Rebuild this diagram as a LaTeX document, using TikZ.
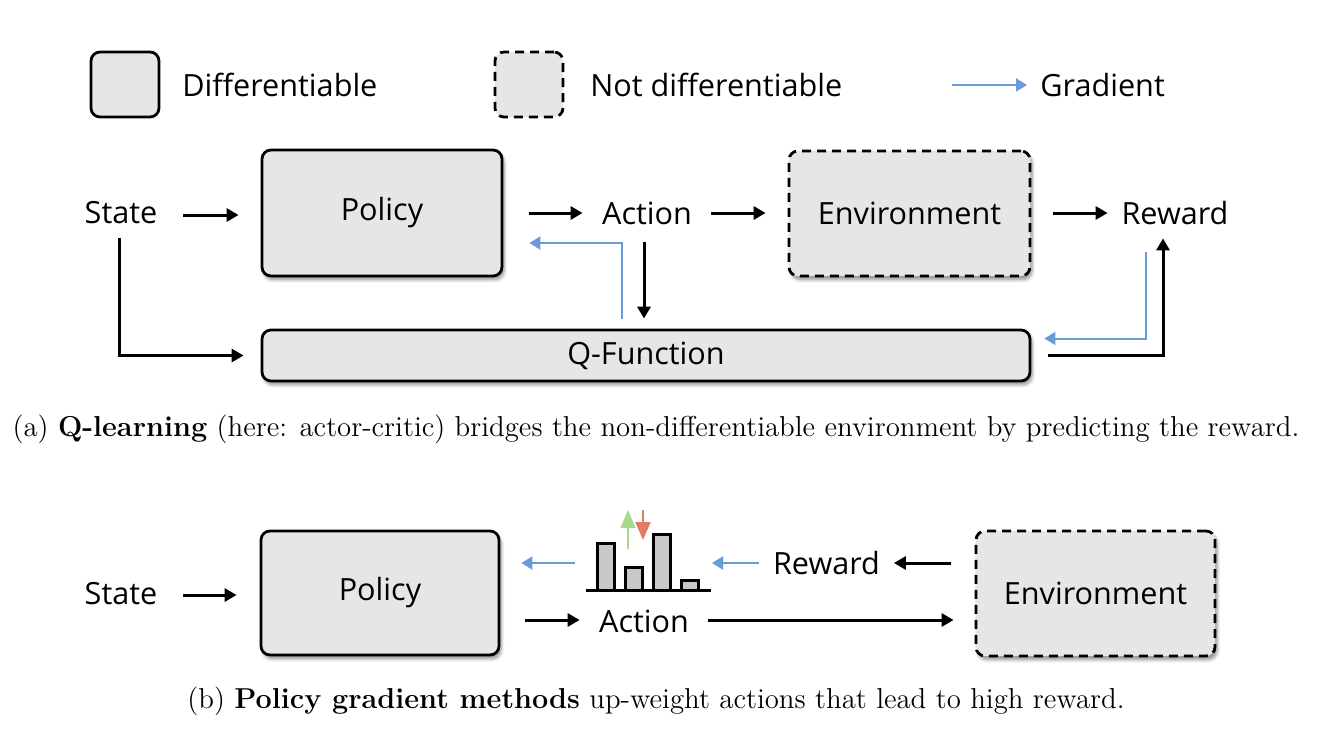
\documentclass[tikz,border=0pt]{standalone}
\usepackage{fontspec}
\setsansfont{Open Sans}
\usetikzlibrary{arrows.meta,calc,shadows.blur}
\definecolor{boxgray}{HTML}{E6E6E6}
\definecolor{gradblue}{HTML}{6A9BD8}
\definecolor{bargray}{HTML}{C8C8C8}
\definecolor{upgreen}{HTML}{A6D98C}
\definecolor{downred}{HTML}{E07A66}
\begin{document}
\begin{tikzpicture}[x=0.5pt,y=-0.5pt,
  lab/.style={font=\sffamily\fontsize{15.3}{18}\selectfont, inner sep=0pt, text=black},
  boxbase/.style={lab, draw=black, fill=boxgray, line width=1.4pt, rounded corners=4.5pt},
  shad/.style={blur shadow={shadow xshift=1pt, shadow yshift=-1.8pt, shadow blur steps=6, shadow opacity=45}},
  diffbox/.style={boxbase, shad},
  ndbox/.style={boxbase, shad, dash pattern=on 4.5pt off 3pt},
  legbox/.style={boxbase},
  legnd/.style={boxbase, dash pattern=on 4.5pt off 3pt},
  arr/.style={-{Triangle[length=6pt,width=6.5pt]}, line width=1.5pt, black},
  grad/.style={-{Triangle[length=5.5pt,width=6.5pt]}, line width=1pt, gradblue},
  bar/.style={draw=black, fill=bargray, line width=1.5pt},
  captext/.style={font=\fontsize{14.4}{17}\selectfont, inner sep=0pt}
]
\useasboundingbox (0,0) rectangle (1342,744);

% legend
\node[legbox, minimum width=34pt, minimum height=32.5pt] (legd) at (125,84.5) {};
\node[lab, anchor=west] (legdl) at (182,85) {Differentiable};
\node[legnd, minimum width=34pt, minimum height=32.5pt] (legn) at (529,84.5) {};
\node[lab, anchor=west] (legnl) at (590,85) {Not differentiable};
\coordinate (gstart) at (952,85);
\node[lab, anchor=west] (leggl) at (1040,85) {Gradient};
\draw[grad, shorten >=6.5pt] (gstart) -- (leggl.west);

% panel (a)
\node[lab, minimum width=62pt, minimum height=25pt] (state) at (121,213) {State};
\node[diffbox, minimum width=120pt, minimum height=63pt] (policy) at (382,213) {Policy};
\node[lab, minimum width=64pt, minimum height=29pt] (action) at (647,213) {Action};
\node[ndbox, minimum width=120.5pt, minimum height=62.5pt] (env) at (909.5,213.5) {Environment};
\node[lab, minimum width=67pt, minimum height=25pt] (reward) at (1175,213) {Reward};
\node[diffbox, minimum width=384pt, minimum height=25.5pt] (qf) at (646,355.5) {Q-Function};

\draw[arr, shorten >=11pt] ($(state.east)+(0,2)$) -- ($(state.east -| policy.west)+(0,2)$);
\draw[arr, shorten <=13pt] (policy.east) -- (action.west);
\draw[arr, shorten >=11pt] (action.east) -- (action.east -| env.west);
\draw[arr, shorten <=11pt] (env.east |- reward.west) -- (reward.west);
\draw[arr] ($(action.south)+(-3,0)$) -- ($(action.south |- qf.north)+(-3,-10)$);
\draw[grad] ($(qf.north)+(-24,-10)$) |- ($(policy.east)+(26,30)$);
\draw[arr] ($(state.south)+(-2,0)$) |- ($(qf.west)+(-17,0)$);
\draw[arr] ($(qf.east)+(17,0)$) -| ($(reward.south)+(-12,0)$);
\draw[grad] ($(reward.south)+(-29,14)$) |- ($(qf.east)+(13,-17)$);

\node[captext] (capa) at (656,429) {(a) \textbf{Q-learning} (here: actor-critic) bridges the non-differentiable environment by predicting the reward.};

% panel (b)
\node[lab, minimum width=62pt, minimum height=25pt] (stateb) at (121,594) {State};
\node[diffbox, minimum width=119pt, minimum height=62pt] (policyb) at (380,593) {Policy};
\node[lab, minimum width=64pt] (actionb) at (644,621) {Action};
\node[lab, minimum width=67pt] (rewardb) at (826.5,563) {Reward};
\node[ndbox, minimum width=119.5pt, minimum height=62.5pt] (envb) at (1095.5,593.5) {Environment};

\coordinate (histL) at (575,563);
\coordinate (histR) at (712,563);

\draw[arr, shorten >=11.5pt] ($(stateb.east)+(0,1)$) -- ($(stateb.east -| policyb.west)+(0,1)$);
\draw[arr] ($(policyb.east |- actionb.west)+(25,-1)$) -- ($(actionb.west)+(0,-1)$);
\draw[arr, shorten >=10.5pt] ($(actionb.east)+(0,-1)$) -- ($(actionb.east -| envb.west)+(0,-1)$);
\draw[arr] ($(envb.west |- rewardb.east)+(-24,0)$) -- (rewardb.east);
\draw[grad] (rewardb.west) -- (histR);
\draw[grad, shorten >=10.5pt] (histL) -- (histL -| policyb.east);

% histogram
\draw[bar] (597.75,590) rectangle (614.25,543.75);
\draw[bar] (625.75,590) rectangle (642.25,567.75);
\draw[bar] (653.75,590) rectangle (670.25,534.75);
\draw[bar] (681.75,590) rectangle (698.25,580.75);
\draw[line width=1.5pt] (586,590) -- (711,590);
\draw[-{Triangle[length=9pt,width=7.5pt]}, upgreen, line width=0.7pt] (628,549) -- (628,510);
\draw[-{Triangle[length=9pt,width=7.5pt]}, downred, line width=1pt] (643,510) -- (643,540);

\node[captext] (capb) at (656,701) {(b) \textbf{Policy gradient methods} up-weight actions that lead to high reward.};
\end{tikzpicture}
\end{document}
